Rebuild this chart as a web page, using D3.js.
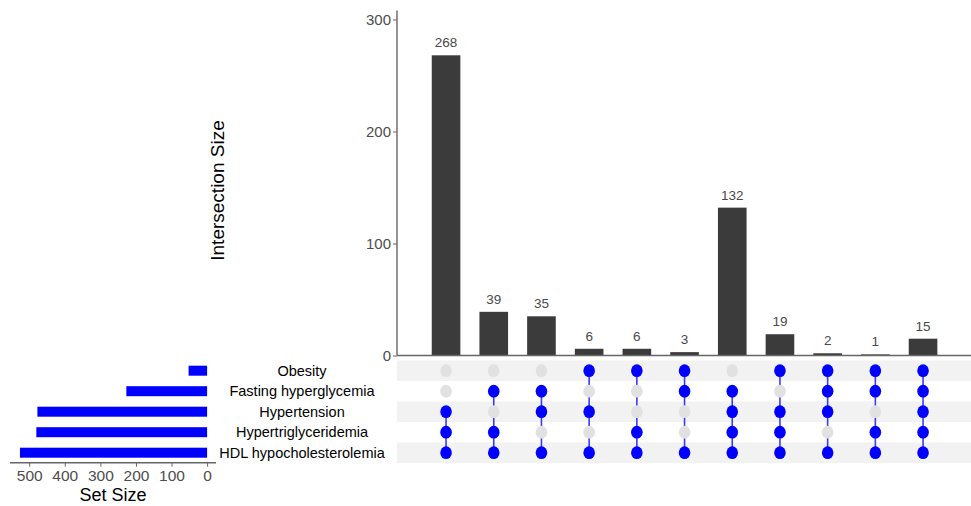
<!DOCTYPE html>
<html>
<head>
<meta charset="utf-8">
<script src="https://cdn.jsdelivr.net/npm/d3@7"></script>
<style>
  body { margin: 0; background: #fff; }
  text { font-family: "Liberation Sans", Arial, sans-serif; }
</style>
</head>
<body>
<script>
var svgWidth = 971;
var svgHeight = 506;

// set names, top to bottom in the matrix
var setNames = ['Obesity', 'Fasting hyperglycemia', 'Hypertension', 'Hypertriglyceridemia', 'HDL hypocholesterolemia'];
var setSizes = [52, 227, 477, 480, 526];

// intersections, left to right
var interSizes = [268, 39, 35, 6, 6, 3, 132, 19, 2, 1, 15];
var interSets = [
  ['Hypertension', 'Hypertriglyceridemia', 'HDL hypocholesterolemia'],
  ['Fasting hyperglycemia', 'Hypertriglyceridemia', 'HDL hypocholesterolemia'],
  ['Fasting hyperglycemia', 'Hypertension', 'HDL hypocholesterolemia'],
  ['Obesity', 'Hypertension', 'HDL hypocholesterolemia'],
  ['Obesity', 'Hypertriglyceridemia', 'HDL hypocholesterolemia'],
  ['Obesity', 'Fasting hyperglycemia', 'HDL hypocholesterolemia'],
  ['Fasting hyperglycemia', 'Hypertension', 'Hypertriglyceridemia', 'HDL hypocholesterolemia'],
  ['Obesity', 'Hypertension', 'Hypertriglyceridemia', 'HDL hypocholesterolemia'],
  ['Obesity', 'Fasting hyperglycemia', 'Hypertension', 'HDL hypocholesterolemia'],
  ['Obesity', 'Fasting hyperglycemia', 'Hypertriglyceridemia', 'HDL hypocholesterolemia'],
  ['Obesity', 'Fasting hyperglycemia', 'Hypertension', 'Hypertriglyceridemia', 'HDL hypocholesterolemia']
];
var interTicks = [0, 100, 200, 300];
var sizeTicks = [500, 400, 300, 200, 100, 0];

var svg = d3.select('body').append('svg')
  .attr('width', svgWidth)
  .attr('height', svgHeight);

var x = d3.scaleBand().domain(d3.range(interSizes.length))
  .range([422.2, 946.9]).paddingInner(0.4).paddingOuter(0.2);
var y = d3.scaleLinear().domain([0, 308]).range([355.5, 10.5]);
var row = d3.scalePoint().domain(setNames).range([370.7, 452.7]);
var rowStep = row.step();
var sx = d3.scaleLinear().domain([554, -25]).range([10, 216]);

// matrix stripes
svg.selectAll('.stripe').data(setNames.filter(function(d, i){ return i % 2 === 0; }))
  .enter().append('rect')
  .attr('x', 397).attr('width', svgWidth - 397)
  .attr('y', function(d){ return row(d) - rowStep / 2; })
  .attr('height', rowStep)
  .attr('fill', '#f2f2f2');

// intersection bars
svg.selectAll('.bar').data(interSizes)
  .enter().append('rect')
  .attr('x', function(d, i){ return x(i); })
  .attr('width', x.bandwidth())
  .attr('y', function(d){ return y(d); })
  .attr('height', function(d){ return y(0) - y(d); })
  .attr('fill', '#3b3b3b');

svg.selectAll('.barlab').data(interSizes)
  .enter().append('text')
  .attr('x', function(d, i){ return x(i) + x.bandwidth() / 2; })
  .attr('y', function(d){ return y(d) - 8; })
  .attr('text-anchor', 'middle')
  .style('font-size', '13.5px')
  .attr('fill', '#4a4a4a')
  .text(function(d){ return d; });

// top y axis
var yAxis = svg.append('g').attr('transform', 'translate(397,0)')
  .call(d3.axisLeft(y).tickValues(interTicks).tickSize(4).tickPadding(2));
yAxis.select('.domain').attr('stroke', '#666').attr('stroke-width', 1.4).attr('d', 'M0,' + y(0) + 'V' + y(308));
yAxis.selectAll('.tick line').attr('stroke', '#666');
yAxis.selectAll('.tick text').style('font-size', '15px').attr('fill', '#4d4d4d');

svg.append('line')
  .attr('x1', 397).attr('x2', svgWidth)
  .attr('y1', y(0)).attr('y2', y(0))
  .attr('stroke', '#666').attr('stroke-width', 1.4);

svg.append('text')
  .attr('transform', 'translate(224,190.5) rotate(-90)')
  .attr('text-anchor', 'middle')
  .style('font-size', '19px')
  .attr('fill', '#000')
  .text('Intersection Size');

// matrix connecting lines and dots
interSets.forEach(function(sets, i){
  var cx = x(i) + x.bandwidth() / 2;
  var ys = sets.map(function(s){ return row(s); });
  svg.append('line')
    .attr('x1', cx).attr('x2', cx)
    .attr('y1', d3.min(ys)).attr('y2', d3.max(ys))
    .attr('stroke', '#3a3aff').attr('stroke-width', 1.6);
  svg.selectAll('.dot' + i).data(setNames)
    .enter().append('ellipse')
    .attr('cx', cx)
    .attr('cy', function(d){ return row(d); })
    .attr('rx', 5.8).attr('ry', 6.4)
    .attr('fill', function(d){ return sets.indexOf(d) >= 0 ? '#0000ff' : '#e1e1e1'; });
});

// set names
svg.selectAll('.setname').data(setNames)
  .enter().append('text')
  .attr('x', 302)
  .attr('y', function(d){ return row(d) + 5; })
  .attr('text-anchor', 'middle')
  .style('font-size', '14.5px')
  .attr('fill', '#000')
  .text(function(d){ return d; });

// set size bars
svg.selectAll('.setbar').data(setSizes)
  .enter().append('rect')
  .attr('x', function(d){ return sx(d); })
  .attr('width', function(d){ return sx(0) - sx(d); })
  .attr('y', function(d, i){ return row(setNames[i]) - 5; })
  .attr('height', 10)
  .attr('fill', '#0000ff');

var sAxis = svg.append('g').attr('transform', 'translate(0,462.7)')
  .call(d3.axisBottom(sx).tickValues(sizeTicks).tickSize(4).tickPadding(3));
sAxis.select('.domain').attr('stroke', '#666').attr('stroke-width', 1.4).attr('d', 'M10,0H216');
sAxis.selectAll('.tick line').attr('stroke', '#666');
sAxis.selectAll('.tick text').style('font-size', '15.5px').attr('fill', '#4d4d4d');

svg.append('text')
  .attr('x', 113).attr('y', 501)
  .attr('text-anchor', 'middle')
  .style('font-size', '18px')
  .attr('fill', '#000')
  .text('Set Size');
</script>
</body>
</html>
